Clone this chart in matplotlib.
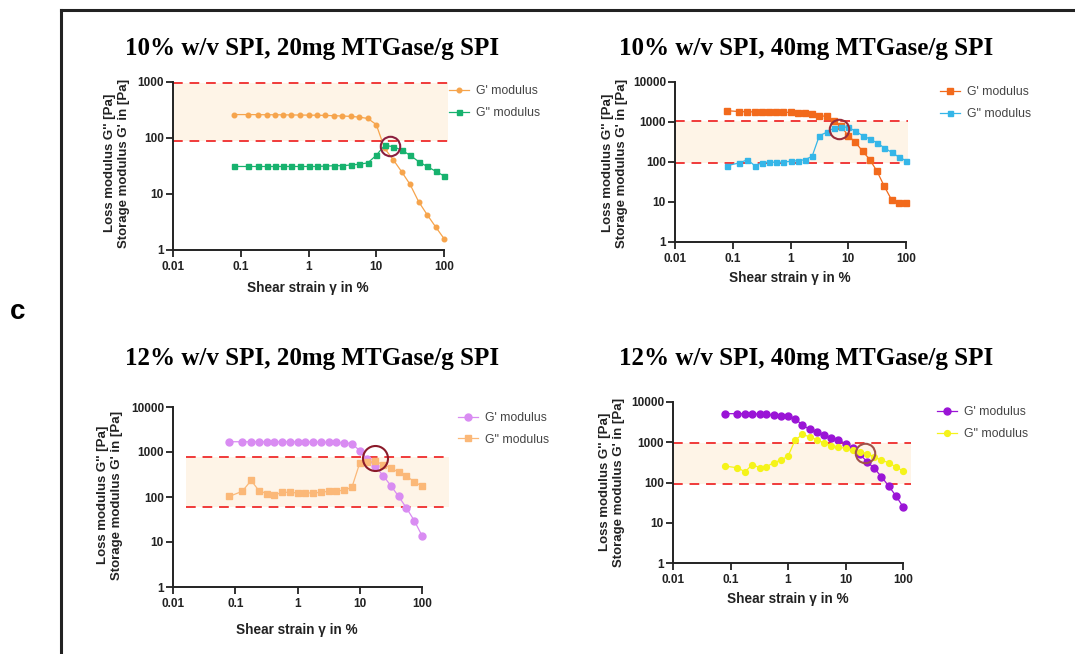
import matplotlib
matplotlib.use("Agg")
import matplotlib.pyplot as plt
from matplotlib.lines import Line2D
from matplotlib.ticker import NullLocator

W, H = 1075, 654

# strain values (%) shared by every sweep
strain = [0.08, 0.13, 0.18, 0.24, 0.32, 0.42, 0.56, 0.75, 1.0, 1.33, 1.78, 2.37,
          3.16, 4.22, 5.62, 7.5, 10, 13.3, 17.8, 23.7, 31.6, 42.2, 56.2, 75, 100]

titles = ["10% w/v SPI, 20mg MTGase/g SPI", "10% w/v SPI, 40mg MTGase/g SPI",
          "12% w/v SPI, 20mg MTGase/g SPI", "12% w/v SPI, 40mg MTGase/g SPI"]

g1_storage = [262, 262, 261, 260, 260, 259, 258, 257, 256, 255, 253, 250, 247,
              243, 236, 223, 174, 65, 41, 25, 14.8, 7.3, 4.3, 2.6, 1.6]
g1_loss = [31, 31, 31, 31, 31, 31, 31, 31, 31, 31, 31.5, 32, 32, 33, 34, 36,
           49, 74, 70, 61, 49, 38, 31, 25.6, 21]

g2_storage = [1920, 1820, 1800, 1790, 1780, 1770, 1760, 1750, 1740, 1700, 1650,
              1580, 1440, 1380, 1040, 780, 455, 310, 185, 114, 58, 24.5, 11.4, 9.4, 9.4]
g2_loss = [81, 95, 114, 81, 95, 100, 98, 100, 104, 108, 114, 139, 455, 550, 710,
           750, 740, 590, 455, 375, 300, 225, 175, 133, 108]

g3_storage = [1690, 1690, 1690, 1690, 1690, 1690, 1690, 1690, 1690, 1680, 1670,
              1660, 1650, 1630, 1600, 1530, 1070, 700, 480, 300, 178, 103, 57, 30, 13.8]
g3_loss = [103, 134, 234, 138, 119, 109, 127, 127, 123, 123, 123, 127, 134, 138,
           140, 166, 570, 590, 620, 525, 440, 355, 290, 220, 172]

g4_storage = [5130, 5130, 5130, 5130, 4990, 4900, 4700, 4600, 4450, 3850, 2660,
              2100, 1800, 1500, 1310, 1130, 930, 700, 500, 328, 225, 139, 82, 47, 25]
g4_loss = [256, 233, 185, 280, 233, 245, 310, 360, 450, 1130, 1560, 1370, 1170,
           960, 800, 770, 700, 640, 580, 510, 440, 360, 310, 245, 193]

storage = [g1_storage, g2_storage, g3_storage, g4_storage]
loss = [g1_loss, g2_loss, g3_loss, g4_loss]

# crossover points (strain, modulus)
cross_x = [15.9, 7.0, 17.7, 21.6]
cross_y = [71, 681, 736, 547]

# linear viscoelastic band: low / high modulus, strain range
band_lo = [88, 94, 60, 90]
band_hi = [950, 1060, 774, 985]
band_x0 = [0.01, 0.01, 0.016, 0.01]
band_x1 = [116, 110, 270, 138]

y_top = [1000, 10000, 10000, 10000]
xticks = [0.01, 0.1, 1, 10, 100]
xticklabels = ["0.01", "0.1", "1", "10", "100"]
yticks = [1, 10, 100, 1000, 10000]
yticklabels = ["1", "10", "100", "1000", "10000"]

# styling / layout
c_storage = ["#f6a44c", "#f26a1c", "#d98cf2", "#9a14d6"]
c_loss = ["#17b26e", "#35b6e8", "#fbb878", "#f5f31a"]
m_storage = ["o", "s", "o", "o"]
m_loss = ["s", "s", "s", "o"]
ms_storage = [3.3, 4.0, 5.0, 5.0]
ms_loss = [3.6, 3.6, 3.8, 4.2]
circle_col = ["#8b1e3f", "#9b2d3a", "#8b1a2a", "#a0524a"]
circle_ms = [14, 14, 18, 14]

ax_px = [(173, 82, 444, 250), (675, 82, 906, 242), (173, 407, 422, 587), (673, 402, 903, 563)]
title_px = [(312, 48), (806, 48), (312, 358), (806, 358)]
ylab_px = [(117, 163), (615, 163), (110, 495), (612, 482)]
xlab_px = [(308, 288), (790, 278), (297, 630), (788, 599)]
leg_px = [(449, 85), (940, 86), (458, 412), (937, 406)]

sans = "Liberation Sans"
serif = "Liberation Serif"

fig = plt.figure(figsize=(W / 100, H / 100), dpi=100)

# outer frame of the figure panel
fig.add_artist(Line2D([61 / W, 61 / W], [0, 1 - 10 / H], color="#222222", lw=2.2,
                      transform=fig.transFigure))
fig.add_artist(Line2D([61 / W, 1], [1 - 10 / H, 1 - 10 / H], color="#222222", lw=2.2,
                      transform=fig.transFigure))
fig.text(18 / W, 1 - 312 / H, "c", fontsize=20, fontweight="bold", family=sans,
         ha="center", va="center")

for i in range(4):
    x0, y0, x1, y1 = ax_px[i]
    ax = fig.add_axes([x0 / W, 1 - y1 / H, (x1 - x0) / W, (y1 - y0) / H])
    ax.set_xscale("log")
    ax.set_yscale("log")
    ax.set_xlim(0.01, 100)
    ax.set_ylim(1, y_top[i])

    ax.fill_between([band_x0[i], band_x1[i]], band_lo[i], band_hi[i],
                    color="#fef4e7", lw=0, zorder=0, clip_on=False)
    for yv in (band_lo[i], band_hi[i]):
        ax.plot([band_x0[i], band_x1[i]], [yv, yv], color="#f03a3a", lw=1.4,
                ls=(0, (5, 3.5)), clip_on=False, zorder=1)

    ax.plot(strain, storage[i], color=c_storage[i], marker=m_storage[i],
            ms=ms_storage[i], lw=0.9, mec=c_storage[i], clip_on=False,
            label="G' modulus", zorder=3)
    ax.plot(strain, loss[i], color=c_loss[i], marker=m_loss[i], ms=ms_loss[i],
            lw=0.9, mec=c_loss[i], clip_on=False, label='G" modulus', zorder=3)
    ax.plot([cross_x[i]], [cross_y[i]], marker="o", ms=circle_ms[i], mfc="none",
            mec=circle_col[i], mew=1.5, ls="none", zorder=4)

    for s in ("top", "right"):
        ax.spines[s].set_visible(False)
    for s in ("left", "bottom"):
        ax.spines[s].set_linewidth(1.4)
        ax.spines[s].set_color("#222222")
    n = 4 if y_top[i] == 1000 else 5
    ax.set_xticks(xticks, xticklabels)
    ax.set_yticks(yticks[:n], yticklabels[:n])
    ax.xaxis.set_minor_locator(NullLocator())
    ax.yaxis.set_minor_locator(NullLocator())
    ax.tick_params(length=5, width=1.3, color="#222222", labelsize=8.5, pad=1.5)
    ax.tick_params(axis="x", pad=3)
    for lab in ax.get_xticklabels() + ax.get_yticklabels():
        lab.set_fontweight("bold")
        lab.set_family(sans)
        lab.set_color("#222222")
    ax.patch.set_alpha(0)

    tx, ty = title_px[i]
    fig.text(tx / W, 1 - ty / H, titles[i], family=serif, fontweight="bold",
             fontsize=18, ha="center", va="center")
    lx, ly = ylab_px[i]
    fig.text(lx / W, 1 - ly / H, "Loss modulus G'' [Pa]\nStorage modulus G' in [Pa]",
             family=sans, fontweight="bold", fontsize=9.5, rotation=90,
             ha="center", va="center", ma="center", color="#222222", linespacing=1.2)
    xx, xy = xlab_px[i]
    fig.text(xx / W, 1 - xy / H, "Shear strain \u03b3 in %", family=sans,
             fontweight="bold", fontsize=9.8, ha="center", va="center", color="#222222")
    gx, gy = leg_px[i]
    ax.legend(loc="upper left", bbox_to_anchor=(gx / W, 1 - gy / H),
              bbox_transform=fig.transFigure, frameon=False,
              prop={"family": sans, "size": 8.8}, labelcolor="#444444",
              handlelength=1.6, handletextpad=0.6, labelspacing=0.8, borderpad=0,
              borderaxespad=0)

fig.savefig("out.png", dpi=100)
